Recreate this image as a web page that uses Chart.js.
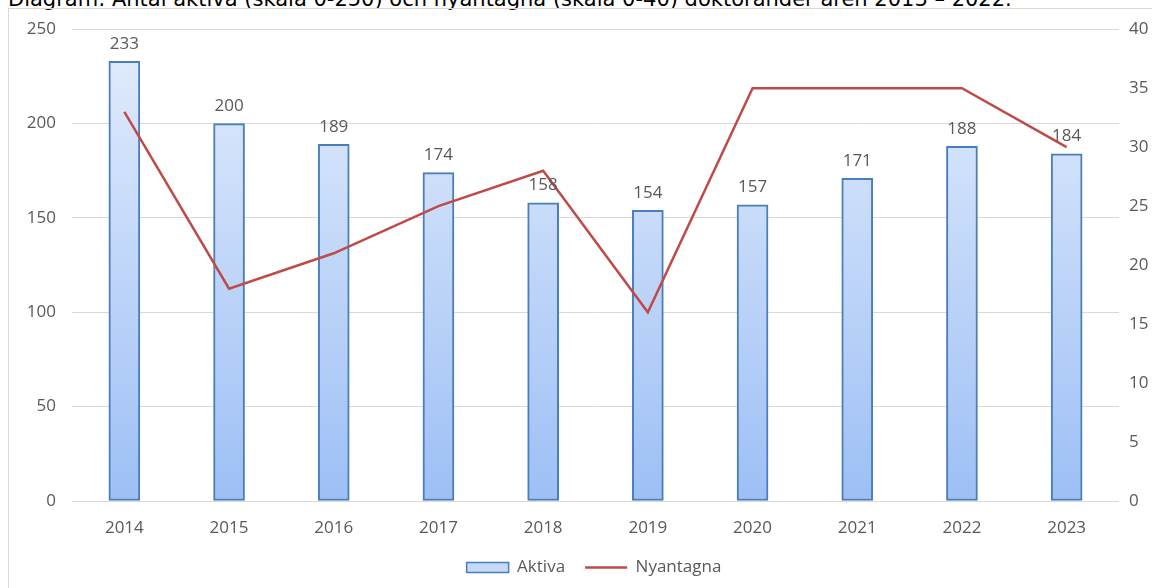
<!DOCTYPE html>
<html>
<head>
<meta charset="utf-8">
<script src="https://cdn.jsdelivr.net/npm/chart.js@4.4.1/dist/chart.umd.min.js"></script>
<style>
  body { margin: 0; background: #fff; overflow: hidden; }
  #rubrik {
    position: absolute; left: 8px; top: -11px; white-space: nowrap;
    font-family: "DejaVu Sans", sans-serif; font-size: 21px; line-height: 21px; color: #000;
  }
  #ram {
    position: absolute; left: 8px; top: 8px; width: 1144px; height: 580px; overflow: hidden;
    border-left: 1px solid #d9d9d9; border-top: 1px solid #d9d9d9;
  }
  #ram canvas { position: absolute; left: 0; top: 0; }
</style>
</head>
<body>
<div id="rubrik">Diagram: Antal aktiva (skala 0-250) och nyantagna (skala 0-40) doktorander åren 2013 – 2022.</div>
<div id="ram"><canvas id="diagram" width="1170" height="580"></canvas></div>
<script>
// data
const ar = ['2014', '2015', '2016', '2017', '2018', '2019', '2020', '2021', '2022', '2023'];
const aktiva = [233, 200, 189, 174, 158, 154, 157, 171, 188, 184];
const nyantagna = [33, 18, 21, 25, 28, 16, 35, 35, 35, 30];
const vansterTicks = [0, 50, 100, 150, 200, 250];
const hogerTicks = [0, 5, 10, 15, 20, 25, 30, 35, 40];

const gra = '#595959';
const typsnitt = { family: '"Open Sans", sans-serif', size: 17 };

// gradient för staplarna, från ljus topp till mörkare botten
function stapelFarg(context) {
  const chart = context.chart;
  const area = chart.chartArea;
  if (!area) return '#c6d9f7';
  const g = chart.ctx.createLinearGradient(0, area.top, 0, area.bottom);
  g.addColorStop(0, '#e3edfc');
  g.addColorStop(1, '#9dbff5');
  return g;
}

// skriver värdet ovanför varje stapel
const stapelEtiketter = {
  id: 'stapelEtiketter',
  afterDatasetsDraw(chart) {
    const ctx = chart.ctx;
    const meta = chart.getDatasetMeta(1);
    ctx.save();
    ctx.font = '17px "Open Sans", sans-serif';
    ctx.fillStyle = gra;
    ctx.textAlign = 'center';
    ctx.textBaseline = 'bottom';
    meta.data.forEach((bar, i) => {
      ctx.fillText(String(aktiva[i]), bar.x, bar.y - 9);
    });
    ctx.restore();
  }
};

new Chart(document.getElementById('diagram'), {
  data: {
    labels: ar,
    datasets: [
      {
        type: 'line',
        label: 'Nyantagna',
        data: nyantagna,
        yAxisID: 'y1',
        borderColor: '#be4b48',
        backgroundColor: '#be4b48',
        borderWidth: 2.5,
        pointRadius: 0,
        tension: 0,
        order: 1
      },
      {
        type: 'bar',
        label: 'Aktiva',
        data: aktiva,
        yAxisID: 'y',
        backgroundColor: stapelFarg,
        borderColor: '#4a7ebb',
        borderWidth: 2,
        borderSkipped: false,
        barThickness: 31,
        order: 2
      }
    ]
  },
  options: {
    responsive: false,
    animation: false,
    layout: { padding: { top: 19, left: 0, right: 0, bottom: 3 } },
    plugins: {
      title: { display: false },
      tooltip: { enabled: false },
      legend: {
        position: 'bottom',
        reverse: true,
        labels: {
          usePointStyle: true,
          pointStyleWidth: 42,
          boxHeight: 10,
          color: gra,
          font: typsnitt,
          padding: 20,
          generateLabels(chart) {
            const items = Chart.defaults.plugins.legend.labels.generateLabels(chart);
            items.forEach(it => {
              if (it.text === 'Aktiva') {
                it.pointStyle = 'rect';
                it.fillStyle = '#c6d9f7';
                it.strokeStyle = '#4a7ebb';
                it.lineWidth = 1.5;
              } else {
                it.pointStyle = 'line';
                it.strokeStyle = '#be4b48';
                it.lineWidth = 2.5;
              }
            });
            return items;
          }
        }
      }
    },
    scales: {
      x: {
        grid: { display: false },
        border: { display: false },
        ticks: { color: gra, font: typsnitt, padding: 9 },
        afterFit(scale) { scale.height = 38; }
      },
      y: {
        position: 'left',
        min: 0,
        max: 250,
        afterBuildTicks(scale) { scale.ticks = vansterTicks.map(v => ({ value: v })); },
        // osynliga tickmarkeringar ger avståndet till etiketterna
        grid: { color: '#d9d9d9', lineWidth: 1, drawTicks: true, tickLength: 16, tickColor: 'rgba(0,0,0,0)' },
        border: { display: false },
        ticks: { color: gra, font: typsnitt, padding: 0 },
        afterFit(scale) { scale.width = 63; }
      },
      y1: {
        position: 'right',
        min: 0,
        max: 40,
        afterBuildTicks(scale) { scale.ticks = hogerTicks.map(v => ({ value: v })); },
        grid: { display: false, drawTicks: false },
        border: { display: false },
        ticks: { color: gra, font: typsnitt, padding: 10 },
        afterFit(scale) { scale.width = 60; }
      }
    }
  },
  plugins: [stapelEtiketter]
});
</script>
</body>
</html>
